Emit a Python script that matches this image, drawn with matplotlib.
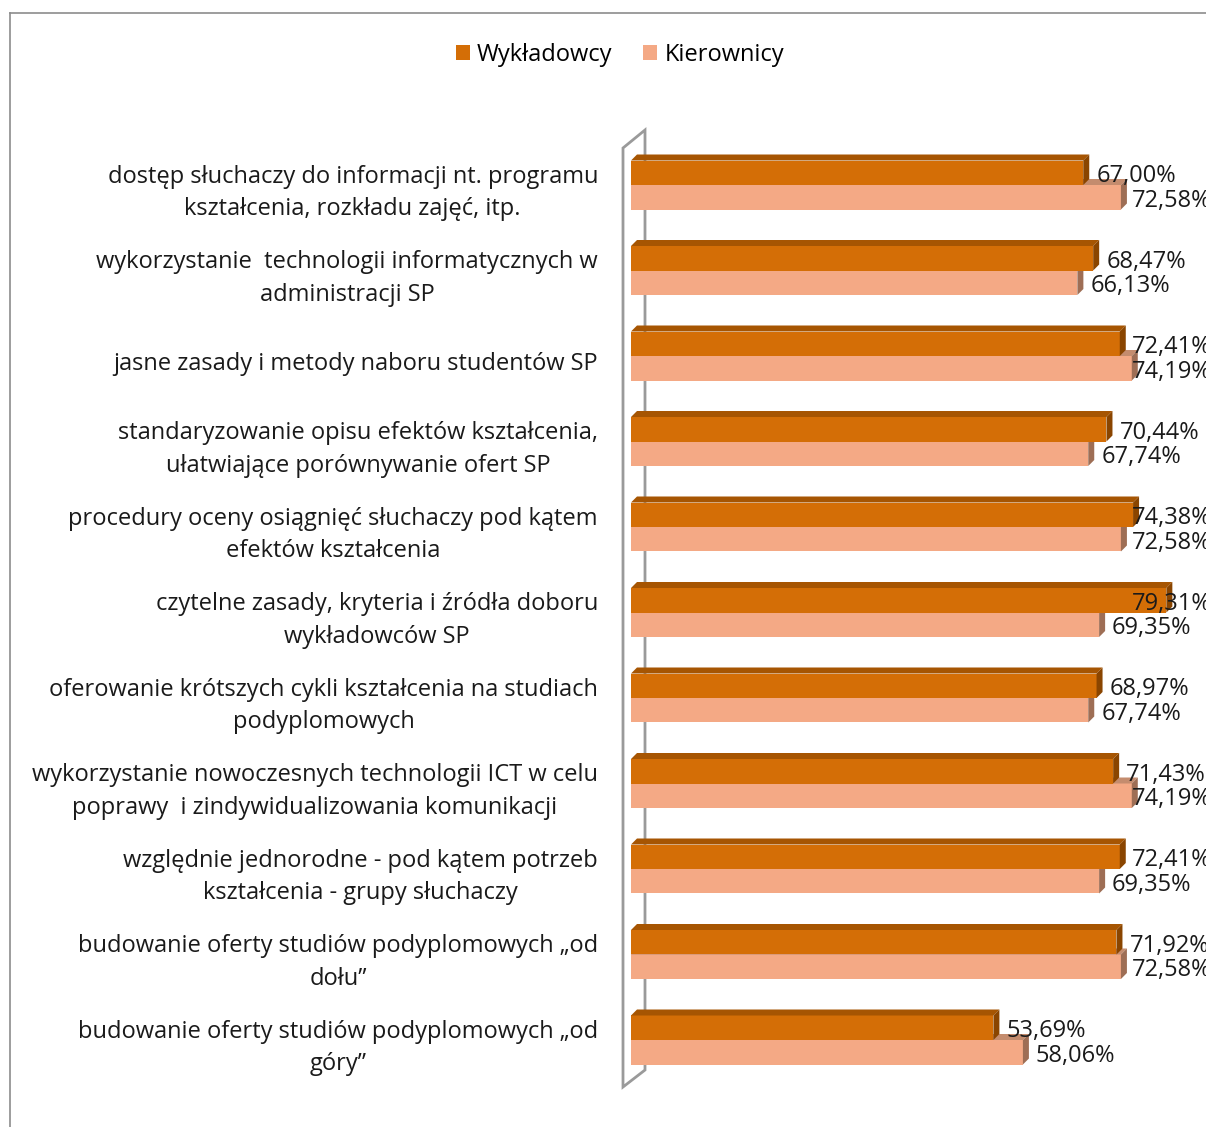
import numpy as np
import matplotlib.pyplot as plt
from matplotlib.patches import Rectangle, Polygon, Patch
from matplotlib.lines import Line2D

plt.rcParams['font.family'] = ['Open Sans', 'DejaVu Sans']

categories = [
    "dostęp słuchaczy do informacji nt. programu\nkształcenia, rozkładu zajęć, itp.",
    "wykorzystanie  technologii informatycznych w\nadministracji SP",
    "jasne zasady i metody naboru studentów SP",
    "standaryzowanie opisu efektów kształcenia,\nułatwiające porównywanie ofert SP",
    "procedury oceny osiągnięć słuchaczy pod kątem\nefektów kształcenia",
    "czytelne zasady, kryteria i źródła doboru\nwykładowców SP",
    "oferowanie krótszych cykli kształcenia na studiach\npodyplomowych",
    "wykorzystanie nowoczesnych technologii ICT w celu\npoprawy  i zindywidualizowania komunikacji",
    "względnie jednorodne - pod kątem potrzeb\nkształcenia - grupy słuchaczy",
    "budowanie oferty studiów podyplomowych \u201eod\ndołu\u201d",
    "budowanie oferty studiów podyplomowych \u201eod\ngóry\u201d",
]
wykladowcy = [67.00, 68.47, 72.41, 70.44, 74.38, 79.31, 68.97, 71.43, 72.41, 71.92, 53.69]
kierownicy = [72.58, 66.13, 74.19, 67.74, 72.58, 69.35, 67.74, 74.19, 69.35, 72.58, 58.06]
series_names = ["Wykładowcy", "Kierownicy"]

dark = dict(front="#D46E06", top="#A65502", side="#8A4500")
light = dict(front="#F4A985", top="#C48C6E", side="#9E6E55")

W, H = 1206, 1127
fig = plt.figure(figsize=(W / 100, H / 100), dpi=100)

# axes placed in pixel terms: 0% at x=631, 6.75 px per percent
px_left, px_right, px_top, px_bot = 600, 1206, 120, 1100
ax = fig.add_axes([px_left / W, 1 - px_bot / H, (px_right - px_left) / W, (px_bot - px_top) / H])
xpp = 1 / 6.75          # data units per pixel, x
ypp = 1 / 85.5          # data units per pixel, y
x0 = 631
ax.set_xlim((px_left - x0) * xpp, (px_right - x0) * xpp)
ax.set_ylim(10 + (px_bot - 1040) * ypp, -(185 - px_top) * ypp)
ax.axis('off')
ax.patch.set_alpha(0)

# back/side wall
wf, wb = (623 - x0) * xpp, (645 - x0) * xpp
wall = Polygon([(wf, (148 - 185) * ypp), (wb, (130 - 185) * ypp),
                (wb, 10 + (1070 - 1040) * ypp), (wf, 10 + (1087 - 1040) * ypp)],
               closed=True, facecolor='white', edgecolor='#9A9A9A', lw=2, zorder=1)
ax.add_patch(wall)

dx, dy = 6 * xpp, 6 * ypp
h = 24.5 * ypp


def bar3d(yc, v, c):
    yt, yb = yc - h / 2, yc + h / 2
    ax.add_patch(Rectangle((0, yt), v, h, facecolor=c['front'], edgecolor='none', zorder=3))
    ax.add_patch(Polygon([(0, yt), (dx, yt - dy), (v + dx, yt - dy), (v, yt)],
                         facecolor=c['top'], edgecolor='none', zorder=3))
    ax.add_patch(Polygon([(v, yt), (v + dx, yt - dy), (v + dx, yb - dy), (v, yb)],
                         facecolor=c['side'], edgecolor='none', zorder=3))


fs = 17
pad = 13 * xpp
label_max = (1132 - x0) * xpp   # labels pushed back inside the chart area
for i in range(len(categories)):
    yk = i + h / 2
    yw = i - h / 2
    bar3d(yk, kierownicy[i], light)
    bar3d(yw, wykladowcy[i], dark)
    ax.text(min(wykladowcy[i] + pad, label_max), yw + 3.5 * ypp,
            f"{wykladowcy[i]:.2f}%".replace('.', ','),
            va='center', ha='left', fontsize=fs, color='#1a1a1a', zorder=5, clip_on=False)
    ax.text(min(kierownicy[i] + pad, label_max), yk + 3.5 * ypp,
            f"{kierownicy[i]:.2f}%".replace('.', ','),
            va='center', ha='left', fontsize=fs, color='#1a1a1a', zorder=5, clip_on=False)
    ax.text((598 - x0) * xpp, i + 8 * ypp, categories[i], ha='right', va='center',
            multialignment='center', fontsize=fs, color='#1a1a1a', linespacing=1.45, clip_on=False)

handles = [Patch(facecolor=dark['front']), Patch(facecolor=light['front'])]
fig.legend(handles, series_names, loc='center', bbox_to_anchor=(620 / W, 1 - 55 / H),
           ncol=2, frameon=False, fontsize=fs, handlelength=0.6, handleheight=0.6,
           handletextpad=0.3, columnspacing=1.3)

# chart border (clipped by the figure edge on the right and bottom)
fig.add_artist(Line2D([10 / W, 10 / W], [0, 1 - 13 / H], color='#8C8C8C', lw=1.2))
fig.add_artist(Line2D([10 / W, 1], [1 - 13 / H, 1 - 13 / H], color='#8C8C8C', lw=1.2))

fig.savefig("out.png", dpi=100)
